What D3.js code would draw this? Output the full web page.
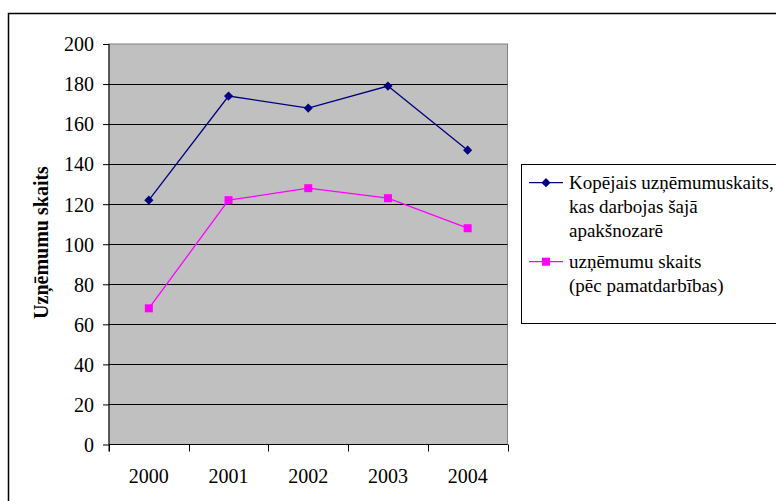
<!DOCTYPE html>
<html>
<head>
<meta charset="utf-8">
<script src="https://cdn.jsdelivr.net/npm/d3@7"></script>
<style>
  html, body { margin: 0; padding: 0; background: #fff; }
  svg text { font-family: "Liberation Serif", "Times New Roman", Times, serif; fill: #000; }
</style>
</head>
<body>
<svg id="chart" width="776" height="501"></svg>
<script>
// Company counts per year
const years = ["2000", "2001", "2002", "2003", "2004"];
const totalCompanies = [122, 174, 168, 179, 147];
const mainActivityCompanies = [68, 122, 128, 123, 108];
const yTicks = [0, 20, 40, 60, 80, 100, 120, 140, 160, 180, 200];
const seriesNames = [
  ["Kopējais uzņēmumuskaits,", "kas darbojas šajā", "apakšnozarē"],
  ["uzņēmumu skaits", "(pēc pamatdarbības)"]
];
const yTitle = "Uzņēmumu skaits";

const FONT = "'Liberation Serif', 'Times New Roman', Times, serif";
const svg = d3.select("#chart");

// outer chart frame (runs past the right and bottom edges)
svg.append("rect")
  .attr("x", 8.5).attr("y", 13.5)
  .attr("width", 900).attr("height", 600)
  .attr("fill", "#fff").attr("stroke", "#000").attr("stroke-width", 1.5);

const plot = { left: 109, right: 507.5, top: 44, bottom: 444.5 };

const x = d3.scaleBand().domain(years).range([plot.left, plot.right]);
const y = d3.scaleLinear().domain([0, 200]).range([plot.bottom, plot.top]);

// plot area
svg.append("rect")
  .attr("x", plot.left).attr("y", plot.top)
  .attr("width", plot.right - plot.left).attr("height", plot.bottom - plot.top)
  .attr("fill", "#C0C0C0").attr("stroke", "#808080").attr("stroke-width", 1);

// horizontal gridlines
svg.append("g").selectAll("line")
  .data(yTicks.filter(t => t > 0 && t < 200))
  .join("line")
  .attr("x1", plot.left).attr("x2", plot.right)
  .attr("y1", d => Math.round(y(d)) + 0.5).attr("y2", d => Math.round(y(d)) + 0.5)
  .attr("stroke", "#000").attr("stroke-width", 1);

// y axis
const yAxis = svg.append("g")
  .attr("transform", `translate(${plot.left},0)`)
  .call(d3.axisLeft(y).tickValues(yTicks).tickSize(6).tickPadding(9))
  .attr("font-family", FONT);
yAxis.select(".domain").attr("stroke", "#000").attr("d", `M0,${plot.top}V${plot.bottom + 7}`);
yAxis.selectAll(".tick line").attr("stroke", "#000");
yAxis.selectAll(".tick text")
  .attr("font-size", 20)
  .attr("font-family", FONT)
  .attr("dy", "0.34em");

// x axis: ticks at category boundaries
const boundaries = years.map(d => x(d)).concat([x(years[years.length - 1]) + x.bandwidth()]);
svg.append("line")
  .attr("x1", plot.left).attr("x2", plot.right)
  .attr("y1", plot.bottom).attr("y2", plot.bottom)
  .attr("stroke", "#000").attr("stroke-width", 1);
svg.append("g").selectAll("line")
  .data(boundaries)
  .join("line")
  .attr("x1", d => Math.round(d) + 0.5).attr("x2", d => Math.round(d) + 0.5)
  .attr("y1", plot.bottom).attr("y2", plot.bottom + 7)
  .attr("stroke", "#000");
svg.append("g").selectAll("text")
  .data(years)
  .join("text")
  .attr("x", d => x(d) + x.bandwidth() / 2)
  .attr("y", 483)
  .attr("text-anchor", "middle")
  .attr("font-family", FONT)
  .attr("font-size", 20)
  .text(d => d);

// y axis title
svg.append("text")
  .attr("transform", `translate(47.5,242.5) rotate(-90)`)
  .attr("text-anchor", "middle")
  .attr("font-family", FONT)
  .attr("font-size", 20)
  .attr("font-weight", "bold")
  .text(yTitle);

const cx = d => x(d) + x.bandwidth() / 2;
const line = d3.line().x((v, i) => cx(years[i])).y(v => y(v));

// diamond marker: a square turned 45 degrees
const diamondPath = d3.symbol().type(d3.symbolSquare).size(42);

// series 1: total companies
svg.append("path").datum(totalCompanies)
  .attr("d", line).attr("fill", "none")
  .attr("stroke", "#000080").attr("stroke-width", 1.3);
svg.append("g").selectAll("path")
  .data(totalCompanies)
  .join("path")
  .attr("transform", (v, i) => `translate(${cx(years[i])},${y(v)}) rotate(45)`)
  .attr("d", diamondPath)
  .attr("fill", "#000080");

// series 2: companies by main activity
svg.append("path").datum(mainActivityCompanies)
  .attr("d", line).attr("fill", "none")
  .attr("stroke", "#FF00FF").attr("stroke-width", 1.3);
svg.append("g").selectAll("rect")
  .data(mainActivityCompanies)
  .join("rect")
  .attr("x", (v, i) => cx(years[i]) - 4)
  .attr("y", v => y(v) - 4)
  .attr("width", 8).attr("height", 8)
  .attr("fill", "#FF00FF");

// legend
const legend = svg.append("g");
legend.append("rect")
  .attr("x", 521.5).attr("y", 164.5)
  .attr("width", 300).attr("height", 159)
  .attr("fill", "#fff").attr("stroke", "#000").attr("stroke-width", 1);

const legendRows = [
  { y: 182.7, color: "#000080", shape: "diamond", lines: seriesNames[0] },
  { y: 261.7, color: "#FF00FF", shape: "square", lines: seriesNames[1] }
];
legendRows.forEach(r => {
  legend.append("line")
    .attr("x1", 529).attr("x2", 563)
    .attr("y1", r.y).attr("y2", r.y)
    .attr("stroke", r.color).attr("stroke-width", 1.3);
  if (r.shape === "diamond") {
    legend.append("path")
      .attr("transform", `translate(546,${r.y}) rotate(45)`)
      .attr("d", diamondPath)
      .attr("fill", r.color);
  } else {
    legend.append("rect")
      .attr("x", 542).attr("y", r.y - 4).attr("width", 8).attr("height", 8)
      .attr("fill", r.color);
  }
  const t = legend.append("text")
    .attr("x", 569).attr("y", r.y + 6)
    .attr("font-family", FONT)
    .attr("font-size", 19);
  r.lines.forEach((s, i) => {
    t.append("tspan").attr("x", 569).attr("dy", i === 0 ? 0 : 24).text(s);
  });
});
</script>
</body>
</html>
